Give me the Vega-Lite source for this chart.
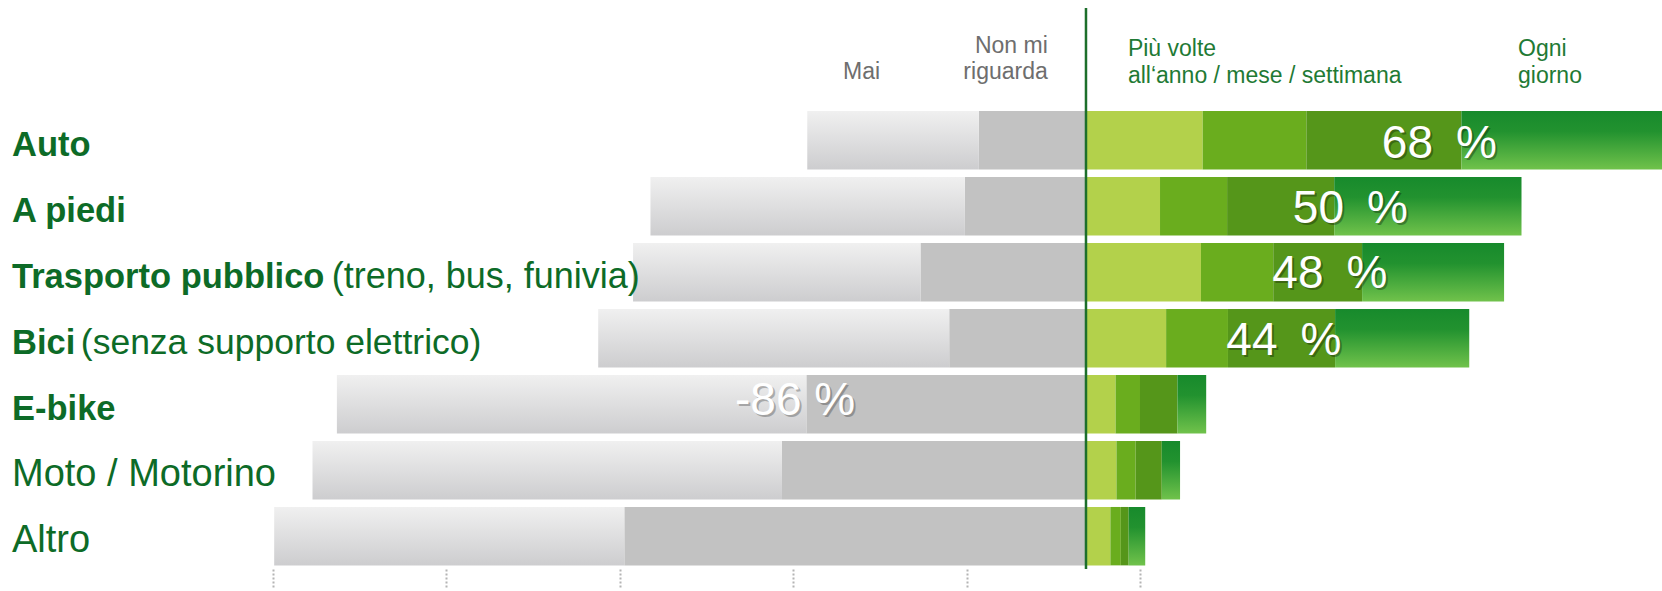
{
  "$schema": "https://vega.github.io/schema/vega-lite/v6.json",
  "width": 1650,
  "height": 561,
  "autosize": {"type": "none"},
  "padding": {"left": 12, "top": 8, "right": 0, "bottom": 22},
  "background": "white",
  "config": {"view": {"stroke": null}, "font": "Liberation Sans"},
  "datasets": {
    "dati": [
      {"mezzo": "Auto", "freq": "Mai", "pct": -19.7},
      {"mezzo": "Auto", "freq": "Non mi riguarda", "pct": -12.3},
      {"mezzo": "Auto", "freq": "Più volte all'anno", "pct": 13.4},
      {"mezzo": "Auto", "freq": "Più volte al mese", "pct": 11.9},
      {"mezzo": "Auto", "freq": "Più volte alla settimana", "pct": 17.8},
      {"mezzo": "Auto", "freq": "Ogni giorno", "pct": 24.9},
      {"mezzo": "A piedi", "freq": "Mai", "pct": -36.1},
      {"mezzo": "A piedi", "freq": "Non mi riguarda", "pct": -13.9},
      {"mezzo": "A piedi", "freq": "Più volte all'anno", "pct": 8.5},
      {"mezzo": "A piedi", "freq": "Più volte al mese", "pct": 7.7},
      {"mezzo": "A piedi", "freq": "Più volte alla settimana", "pct": 12.3},
      {"mezzo": "A piedi", "freq": "Ogni giorno", "pct": 21.5},
      {"mezzo": "Trasporto pubblico", "freq": "Mai", "pct": -33.0},
      {"mezzo": "Trasporto pubblico", "freq": "Non mi riguarda", "pct": -19.0},
      {"mezzo": "Trasporto pubblico", "freq": "Più volte all'anno", "pct": 13.2},
      {"mezzo": "Trasporto pubblico", "freq": "Più volte al mese", "pct": 8.3},
      {"mezzo": "Trasporto pubblico", "freq": "Più volte alla settimana", "pct": 10.2},
      {"mezzo": "Trasporto pubblico", "freq": "Ogni giorno", "pct": 16.3},
      {"mezzo": "Bici", "freq": "Mai", "pct": -40.3},
      {"mezzo": "Bici", "freq": "Non mi riguarda", "pct": -15.7},
      {"mezzo": "Bici", "freq": "Più volte all'anno", "pct": 9.2},
      {"mezzo": "Bici", "freq": "Più volte al mese", "pct": 7.1},
      {"mezzo": "Bici", "freq": "Più volte alla settimana", "pct": 12.3},
      {"mezzo": "Bici", "freq": "Ogni giorno", "pct": 15.4},
      {"mezzo": "E-bike", "freq": "Mai", "pct": -53.9},
      {"mezzo": "E-bike", "freq": "Non mi riguarda", "pct": -32.1},
      {"mezzo": "E-bike", "freq": "Più volte all'anno", "pct": 3.4},
      {"mezzo": "E-bike", "freq": "Più volte al mese", "pct": 2.8},
      {"mezzo": "E-bike", "freq": "Più volte alla settimana", "pct": 4.3},
      {"mezzo": "E-bike", "freq": "Ogni giorno", "pct": 3.3},
      {"mezzo": "Moto / Motorino", "freq": "Mai", "pct": -53.9},
      {"mezzo": "Moto / Motorino", "freq": "Non mi riguarda", "pct": -34.9},
      {"mezzo": "Moto / Motorino", "freq": "Più volte all'anno", "pct": 3.5},
      {"mezzo": "Moto / Motorino", "freq": "Più volte al mese", "pct": 2.2},
      {"mezzo": "Moto / Motorino", "freq": "Più volte alla settimana", "pct": 3.0},
      {"mezzo": "Moto / Motorino", "freq": "Ogni giorno", "pct": 2.1},
      {"mezzo": "Altro", "freq": "Mai", "pct": -40.2},
      {"mezzo": "Altro", "freq": "Non mi riguarda", "pct": -53.0},
      {"mezzo": "Altro", "freq": "Più volte all'anno", "pct": 2.8},
      {"mezzo": "Altro", "freq": "Più volte al mese", "pct": 1.2},
      {"mezzo": "Altro", "freq": "Più volte alla settimana", "pct": 0.9},
      {"mezzo": "Altro", "freq": "Ogni giorno", "pct": 1.9}
    ],
    "mezzi": [
      {"mezzo": "Auto", "nota": ""},
      {"mezzo": "A piedi", "nota": ""},
      {"mezzo": "Trasporto pubblico", "nota": "(treno, bus, funivia)"},
      {"mezzo": "Bici", "nota": "(senza supporto elettrico)"},
      {"mezzo": "E-bike", "nota": ""},
      {"mezzo": "Moto / Motorino", "nota": ""},
      {"mezzo": "Altro", "nota": ""}
    ]
  },
  "layer": [
    {
      "data": {"name": "dati"},
      "transform": [
        {"calculate": "indexof(['Non mi riguarda','Mai','Più volte all\\'anno','Più volte al mese','Più volte alla settimana','Ogni giorno'], datum.freq)", "as": "ord"},
        {"stack": "pct", "groupby": ["mezzo"], "sort": [{"field": "ord", "order": "ascending"}], "as": ["x0", "x1"]}
      ],
      "layer": [
        {
          "transform": [{"filter": "datum.freq !== 'Mai' && datum.freq !== 'Ogni giorno'"}],
          "mark": {"type": "bar", "clip": true},
          "encoding": {
            "color": {"field": "freq", "type": "nominal", "legend": null,
              "scale": {"domain": ["Non mi riguarda", "Più volte all'anno", "Più volte al mese", "Più volte alla settimana"],
                        "range": ["#c2c2c2", "#b3d14b", "#6aad1e", "#55961a"]}}
          }
        },
        {
          "transform": [{"filter": "datum.freq === 'Mai'"}],
          "mark": {"type": "bar", "clip": true,
            "color": {"gradient": "linear", "x1": 0, "y1": 0, "x2": 0, "y2": 1,
              "stops": [{"offset": 0, "color": "#f0f0f0"}, {"offset": 1, "color": "#cdcdcf"}]}}
        },
        {
          "transform": [{"filter": "datum.freq === 'Ogni giorno'"}],
          "mark": {"type": "bar", "clip": true,
            "color": {"gradient": "linear", "x1": 0, "y1": 0, "x2": 0, "y2": 1,
              "stops": [{"offset": 0, "color": "#178a2c"}, {"offset": 0.35, "color": "#22922f"}, {"offset": 1, "color": "#70c24b"}]}}
        }
      ],
      "encoding": {
        "x": {"field": "x0", "type": "quantitative",
          "scale": {"domain": [-123.3, 66.13], "nice": false, "zero": false},
          "axis": {"title": null, "values": [-93.38, -73.48, -53.5, -33.61, -13.71, 6.19], "labels": false, "domain": false, "grid": false,
                   "ticks": true, "tickSize": 18, "tickDash": [2, 2], "tickColor": "#b4b4b4", "tickWidth": 2}},
        "x2": {"field": "x1"},
        "y": {"field": "mezzo", "type": "nominal", "axis": null,
          "scale": {"domain": ["Auto", "A piedi", "Trasporto pubblico", "Bici", "E-bike", "Moto / Motorino", "Altro"],
                    "paddingInner": 0.115, "paddingOuter": 0.8076, "align": 0.966}}
      }
    },
    {
      "data": {"values": [{"zero": 0}]},
      "mark": {"type": "rule", "color": "#1d6f2b", "strokeWidth": 2.5},
      "encoding": {"x": {"field": "zero", "type": "quantitative"}}
    },
    {
      "data": {"name": "mezzi"},
      "transform": [{"filter": {"field": "mezzo", "oneOf": ["Auto", "A piedi", "Trasporto pubblico", "Bici", "E-bike"]}}],
      "mark": {"type": "text", "align": "left", "baseline": "alphabetic", "dy": 15.5, "fontSize": 34.5, "fontWeight": "bold", "color": "#0d6b27"},
      "encoding": {"x": {"datum": -123.3}, "y": {"field": "mezzo", "type": "nominal"}, "text": {"field": "mezzo"}}
    },
    {
      "data": {"name": "mezzi"},
      "transform": [{"filter": {"field": "mezzo", "oneOf": ["Moto / Motorino", "Altro"]}}],
      "mark": {"type": "text", "align": "left", "baseline": "alphabetic", "dy": 16, "fontSize": 38, "color": "#0d6b27"},
      "encoding": {"x": {"datum": -123.3}, "y": {"field": "mezzo", "type": "nominal"}, "text": {"field": "mezzo"}}
    },
    {
      "data": {"name": "mezzi"},
      "transform": [{"filter": "datum.mezzo === 'Trasporto pubblico'"}],
      "mark": {"type": "text", "align": "left", "baseline": "alphabetic", "dy": 15.5, "fontSize": 36, "color": "#0d6b27"},
      "encoding": {"x": {"datum": -86.6}, "y": {"field": "mezzo", "type": "nominal"}, "text": {"field": "nota"}}
    },
    {
      "data": {"name": "mezzi"},
      "transform": [{"filter": "datum.mezzo === 'Bici'"}],
      "mark": {"type": "text", "align": "left", "baseline": "alphabetic", "dy": 15.5, "fontSize": 35.5, "color": "#0d6b27"},
      "encoding": {"x": {"datum": -115.4}, "y": {"field": "mezzo", "type": "nominal"}, "text": {"field": "nota"}}
    },
    {
      "data": {"values": [{"t": "Mai"}]},
      "mark": {"type": "text", "align": "left", "baseline": "alphabetic", "dy": -61.5, "fontSize": 23, "color": "#6e6e6e"},
      "encoding": {"x": {"datum": -27.9}, "y": {"datum": "Auto", "type": "nominal"}, "text": {"field": "t"}}
    },
    {
      "data": {"values": [{"t": "Non mi\nriguarda"}]},
      "mark": {"type": "text", "align": "right", "baseline": "alphabetic", "dy": -87, "fontSize": 23, "lineHeight": 26, "lineBreak": "\n", "color": "#6e6e6e"},
      "encoding": {"x": {"datum": -4.39}, "y": {"datum": "Auto", "type": "nominal"}, "text": {"field": "t"}}
    },
    {
      "data": {"values": [{"t": "Più volte\nall‘anno / mese / settimana"}]},
      "mark": {"type": "text", "align": "left", "baseline": "alphabetic", "dy": -84, "fontSize": 23, "lineHeight": 26.5, "lineBreak": "\n", "color": "#1f7a35"},
      "encoding": {"x": {"datum": 4.81}, "y": {"datum": "Auto", "type": "nominal"}, "text": {"field": "t"}}
    },
    {
      "data": {"values": [{"t": "Ogni\ngiorno"}]},
      "mark": {"type": "text", "align": "left", "baseline": "alphabetic", "dy": -84, "fontSize": 23, "lineHeight": 26.5, "lineBreak": "\n", "color": "#1f7a35"},
      "encoding": {"x": {"datum": 49.6}, "y": {"datum": "Auto", "type": "nominal"}, "text": {"field": "t"}}
    },
    {
      "data": {"values": [{"mezzo": "Auto", "etichetta": "68\u2002%"}]},
      "encoding": {"x": {"datum": 40.57}, "y": {"field": "mezzo", "type": "nominal"}, "text": {"field": "etichetta"}},
      "layer": [
        {"mark": {"type": "text", "align": "center", "baseline": "alphabetic", "dy": 19.5, "dx": 2, "fontSize": 46, "color": "#000000", "opacity": 0.3}},
        {"mark": {"type": "text", "align": "center", "baseline": "alphabetic", "dy": 17.5, "fontSize": 46, "color": "#ffffff"}}
      ]
    },
    {
      "data": {"values": [{"mezzo": "A piedi", "etichetta": "50\u2002%"}]},
      "encoding": {"x": {"datum": 30.35}, "y": {"field": "mezzo", "type": "nominal"}, "text": {"field": "etichetta"}},
      "layer": [
        {"mark": {"type": "text", "align": "center", "baseline": "alphabetic", "dy": 19, "dx": 2, "fontSize": 46, "color": "#000000", "opacity": 0.3}},
        {"mark": {"type": "text", "align": "center", "baseline": "alphabetic", "dy": 17, "fontSize": 46, "color": "#ffffff"}}
      ]
    },
    {
      "data": {"values": [{"mezzo": "Trasporto pubblico", "etichetta": "48\u2002%"}]},
      "encoding": {"x": {"datum": 28.0}, "y": {"field": "mezzo", "type": "nominal"}, "text": {"field": "etichetta"}},
      "layer": [
        {"mark": {"type": "text", "align": "center", "baseline": "alphabetic", "dy": 18, "dx": 2, "fontSize": 46, "color": "#000000", "opacity": 0.3}},
        {"mark": {"type": "text", "align": "center", "baseline": "alphabetic", "dy": 16, "fontSize": 46, "color": "#ffffff"}}
      ]
    },
    {
      "data": {"values": [{"mezzo": "Bici", "etichetta": "44\u2002%"}]},
      "encoding": {"x": {"datum": 22.72}, "y": {"field": "mezzo", "type": "nominal"}, "text": {"field": "etichetta"}},
      "layer": [
        {"mark": {"type": "text", "align": "center", "baseline": "alphabetic", "dy": 19, "dx": 2, "fontSize": 46, "color": "#000000", "opacity": 0.3}},
        {"mark": {"type": "text", "align": "center", "baseline": "alphabetic", "dy": 17, "fontSize": 46, "color": "#ffffff"}}
      ]
    },
    {
      "data": {"values": [{"mezzo": "E-bike", "etichetta": "-86 %"}]},
      "encoding": {"x": {"datum": -33.4}, "y": {"field": "mezzo", "type": "nominal"}, "text": {"field": "etichetta"}},
      "layer": [
        {"mark": {"type": "text", "align": "center", "baseline": "alphabetic", "dy": 13, "dx": 2, "fontSize": 46, "color": "#000000", "opacity": 0.25}},
        {"mark": {"type": "text", "align": "center", "baseline": "alphabetic", "dy": 11, "fontSize": 46, "color": "#ffffff"}}
      ]
    }
  ]
}
